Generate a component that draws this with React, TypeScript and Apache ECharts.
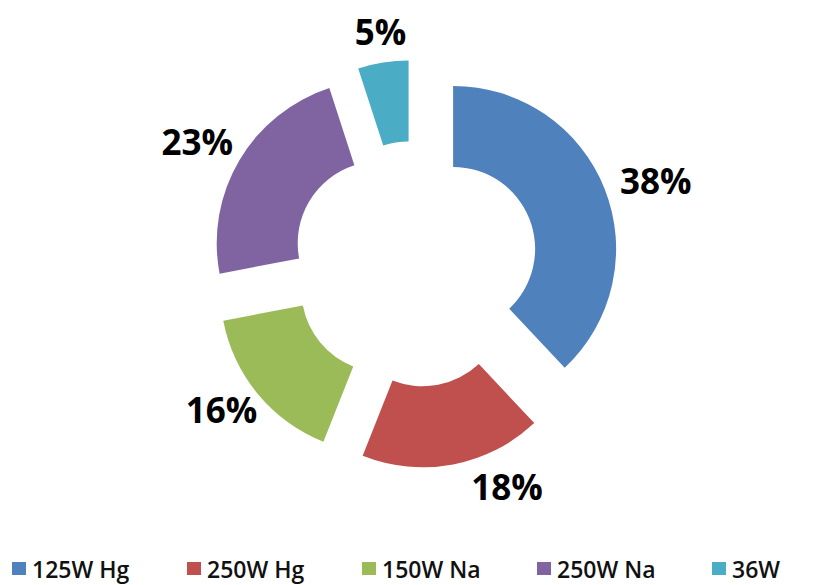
import React, { useEffect, useRef } from "react";
import * as echarts from "echarts";

// Lamp types and their share of the total
const categories = ["125W Hg", "250W Hg", "150W Na", "250W Na", "36W"];
const shares = [38, 18, 16, 23, 5];
const palette = ["#4F81BD", "#C0504D", "#9BBB59", "#8064A2", "#4BACC6"];

// Small label nudges (px) applied after the library places each label
const labelNudge: [number, number][] = [
  [12, 7],
  [46, -19],
  [-4, -11],
  [-6, 3],
  [4, 10],
];

const FONT = "'Open Sans', 'DejaVu Sans', sans-serif";
const LEGEND_LEFT = 12;
const LEGEND_STEP = 175;

export default function App() {
  const ref = useRef<HTMLDivElement>(null);

  useEffect(() => {
    if (!ref.current) return;
    const chart = echarts.init(ref.current, null, { renderer: "svg" });
    // One legend block per category so the entries sit on an even grid
    const legends = categories.map((name, i) => ({
      bottom: 5,
      left: LEGEND_LEFT + i * LEGEND_STEP,
      padding: 0,
      itemWidth: 14,
      itemHeight: 13,
      itemGap: 6,
      icon: "rect",
      selectedMode: false,
      data: [name],
      textStyle: {
        fontFamily: FONT,
        fontSize: 23,
        fontWeight: 600,
        color: "#111111",
        padding: [0, 0, 0, 1],
      },
    }));
    chart.setOption({
      animation: false,
      backgroundColor: "#ffffff",
      color: palette,
      legend: legends,
      series: [
        {
          type: "pie",
          center: [415, 264],
          radius: [82, 163],
          startAngle: 90,
          clockwise: true,
          selectedMode: "multiple",
          selectedOffset: 41,
          avoidLabelOverlap: false,
          percentPrecision: 0,
          emphasis: { disabled: true },
          select: { itemStyle: { borderWidth: 0 } },
          itemStyle: { borderWidth: 0 },
          label: {
            show: true,
            position: "outside",
            formatter: "{d}%",
            fontFamily: FONT,
            fontSize: 35,
            fontWeight: 700,
            color: "#000000",
            distanceToLabelLine: 0,
          },
          labelLine: { show: false, length: 42, length2: 0 },
          labelLayout: (p: any) => ({
            align: "center",
            verticalAlign: "middle",
            dx: labelNudge[p.dataIndex][0],
            dy: labelNudge[p.dataIndex][1],
          }),
          data: categories.map((name, i) => ({
            name,
            value: shares[i],
            selected: true,
          })),
        },
      ],
    });
    return () => chart.dispose();
  }, []);

  return (
    <div
      ref={ref}
      style={{ position: "absolute", left: 0, top: 0, width: 813, height: 585 }}
    />
  );
}
